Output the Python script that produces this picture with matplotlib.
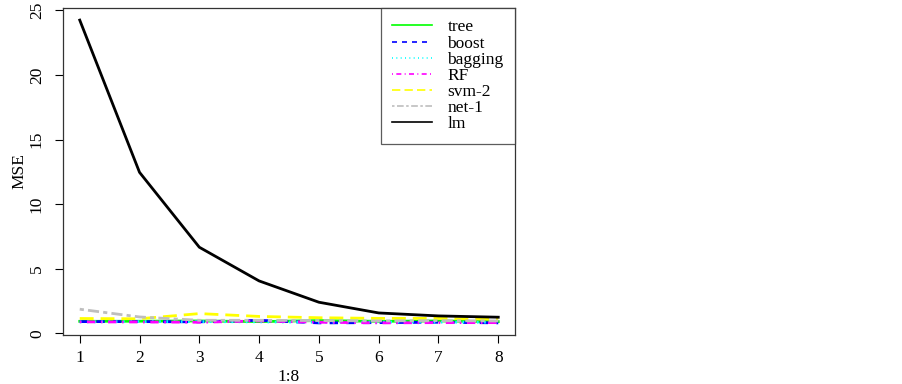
import matplotlib
matplotlib.use("Agg")
import matplotlib.pyplot as plt

x = [1, 2, 3, 4, 5, 6, 7, 8]
tree = [0.92, 0.93, 0.95, 0.90, 0.98, 0.92, 0.95, 0.90]
boost = [0.90, 0.90, 0.88, 1.00, 0.80, 0.82, 0.85, 0.80]
bagging = [0.88, 0.90, 0.90, 0.88, 0.85, 0.87, 0.86, 0.85]
rf = [0.88, 0.87, 0.85, 0.95, 0.85, 0.80, 0.82, 0.82]
svm2 = [1.14, 1.12, 1.52, 1.30, 1.20, 1.15, 1.15, 1.08]
net1 = [1.86, 1.26, 1.00, 1.00, 0.98, 0.95, 0.97, 0.95]
lm = [24.25, 12.46, 6.66, 4.05, 2.40, 1.57, 1.34, 1.24]

labels = ["tree", "boost", "bagging", "RF", "svm-2", "net-1", "lm"]
series = [tree, boost, bagging, rf, svm2, net1, lm]
colors = ["#00FF00", "#0000FF", "#00FFFF", "#FF00FF", "#FFFF00", "#BEBEBE", "#000000"]
dashes = [None, (3, 3), (0.6, 2), (0.6, 2, 3, 2), (5, 2.5), (1.5, 1.5, 4, 1.5), None]
y_ticks = [0, 5, 10, 15, 20, 25]

plt.rcParams["font.family"] = ["Liberation Serif", "DejaVu Serif"]
FS = 12.5

fig = plt.figure(figsize=(9.03, 3.84), dpi=100)
ax = fig.add_axes([63 / 903, 49 / 384, 452 / 903, 327 / 384])

handles = []
for s, lab, c, d in zip(series, labels, colors, dashes):
    kw = dict(color=c, linewidth=2.0, label=lab)
    if d is not None:
        (ln,) = ax.plot(x, s, dashes=d, **kw)
    else:
        (ln,) = ax.plot(x, s, **kw)
    handles.append(ln)

ax.margins(x=0.04, y=0.04)
ax.set_xticks(x)
ax.set_yticks(y_ticks)
ax.tick_params(axis="both", direction="out", length=6, width=0.8, labelsize=FS)
ax.tick_params(axis="x", pad=5)
ax.tick_params(axis="y", pad=7)
for t in ax.get_yticklabels():
    t.set_rotation(90)
    t.set_va("center")
ax.set_xlabel("1:8", fontsize=FS, labelpad=2)
ax.set_ylabel("MSE", fontsize=FS, labelpad=1)
for sp in ax.spines.values():
    sp.set_linewidth(0.9)
    sp.set_color("#333333")

leg = ax.legend(handles=handles, loc="upper right", bbox_to_anchor=(1, 1),
                borderaxespad=0, frameon=True, fancybox=False, fontsize=FS,
                handlelength=2.3, handletextpad=0.9, labelspacing=0.0,
                borderpad=0.65)
leg.get_frame().set_edgecolor("#333333")
leg.get_frame().set_linewidth(0.9)
for l in leg.get_lines():
    l.set_linewidth(1.2)

fig.savefig("out.png", dpi=100)
